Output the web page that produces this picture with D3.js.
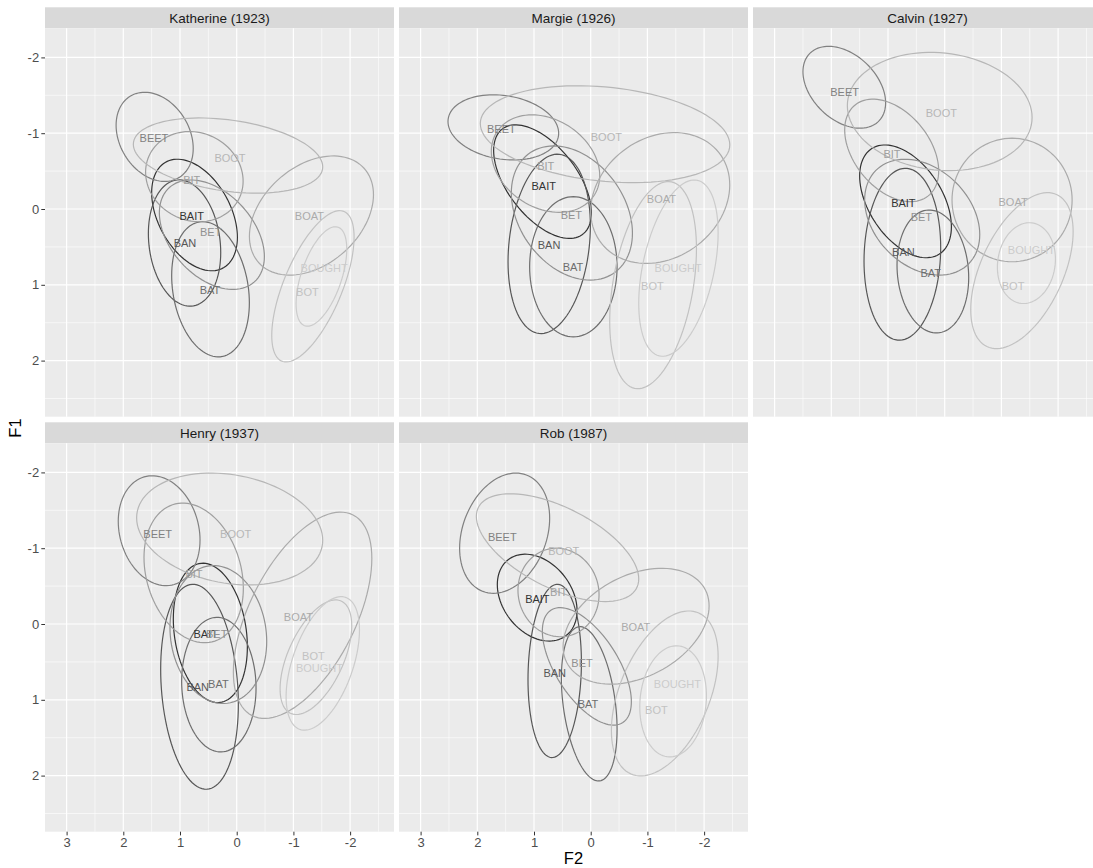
<!DOCTYPE html>
<html><head><meta charset="utf-8">
<script src="https://cdn.jsdelivr.net/npm/d3@7"></script>
<style>
body{margin:0;background:#fff;}
svg{display:block;font-family:"Liberation Sans",Arial,Helvetica,sans-serif;}
</style>
</head><body>
<svg id="chart" width="1093" height="868"></svg>
<script>
// ---------------- data ----------------
const vowels = ["BAIT","BAN","BAT","BEET","BET","BIT","BOAT","BOOT","BOT","BOUGHT"];
const speakers = ["Katherine (1923)","Margie (1926)","Calvin (1927)","Henry (1937)","Rob (1987)"];
const xTicks = [3,2,1,0,-1,-2];
const yTicks = [-2,-1,0,1,2];
const xTickLabels = ["3","2","1","0","-1","-2"];
const yTickLabels = ["-2","-1","0","1","2"];
// rows: vowel, ellipse centre F2, centre F1, half-extent F2, half-extent F1, correlation, label F2, label F1
const katherine = [
  ["BAIT",   0.744,  0.079, 0.756, 0.736, -0.40,  0.794,  0.088],
  ["BAN",    0.920,  0.449, 0.638, 0.833, -0.15,  0.912,  0.445],
  ["BAT",    0.462,  1.059, 0.685, 0.892, -0.20,  0.471,  1.070],
  ["BEET",   1.447, -0.952, 0.680, 0.588, -0.26,  1.459, -0.934],
  ["BET",    0.438,  0.339, 0.926, 0.722, -0.40,  0.459,  0.308],
  ["BIT",    0.747, -0.427, 0.860, 0.595, -0.10,  0.794, -0.383],
  ["BOAT",  -1.318,  0.086, 1.094, 0.786,  0.35, -1.282,  0.088],
  ["BOOT",   0.153, -0.705, 1.670, 0.496, -0.30,  0.118, -0.670],
  ["BOT",   -1.344,  1.020, 0.726, 0.998,  0.65, -1.247,  1.101],
  ["BOUGHT",-1.494,  0.890, 0.447, 0.656,  0.55, -1.541,  0.775]
];
const margie = [
  ["BAIT",   0.850, -0.361, 0.862, 0.749, -0.55,  0.829, -0.304],
  ["BAN",    0.732,  0.460, 0.726, 1.183,  0.20,  0.735,  0.476],
  ["BAT",    0.306,  0.762, 0.771, 0.925,  0.00,  0.312,  0.771],
  ["BEET",   1.541, -1.077, 0.976, 0.430, -0.18,  1.576, -1.053],
  ["BET",    0.332,  0.053, 1.068, 0.885, -0.30,  0.341,  0.079],
  ["BIT",    0.797, -0.599, 0.956, 0.643, -0.25,  0.794, -0.559],
  ["BOAT",  -1.226, -0.145, 1.226, 0.863,  0.20, -1.247, -0.132],
  ["BOOT",  -0.253, -0.987, 2.200, 0.639, -0.22, -0.276, -0.943],
  ["BOT",   -1.100,  1.004, 0.765, 1.366,  0.35, -1.088,  1.018],
  ["BOUGHT",-1.547,  0.780, 0.700, 1.163,  0.40, -1.541,  0.775]
];
const calvin = [
  ["BAIT",   0.691, -0.101, 0.809, 0.744, -0.45,  0.729, -0.075],
  ["BAN",    0.747,  0.597, 0.676, 1.134,  0.08,  0.729,  0.573],
  ["BAT",    0.209,  0.824, 0.632, 0.811, -0.10,  0.247,  0.850],
  ["BEET",   1.771, -1.606, 0.729, 0.540, -0.38,  1.765, -1.537],
  ["BET",    0.397,  0.108, 1.015, 0.764, -0.30,  0.412,  0.110],
  ["BIT",    0.935, -0.773, 0.829, 0.676, -0.40,  0.929, -0.727],
  ["BOAT",  -1.188, -0.119, 1.059, 0.815,  0.00, -1.206, -0.097],
  ["BOOT",   0.088, -1.286, 1.629, 0.780, -0.10,  0.059, -1.260],
  ["BOT",   -1.362,  0.813, 0.903, 1.029,  0.50, -1.206,  1.013],
  ["BOUGHT",-1.441,  0.714, 0.512, 0.533,  0.10, -1.529,  0.542]
];
const henry = [
  ["BAIT",   0.465,  0.117, 0.653, 0.919, -0.20,  0.547,  0.128],
  ["BAN",    0.656,  0.828, 0.685, 1.352, -0.17,  0.688,  0.828],
  ["BAT",    0.315,  0.800, 0.656, 0.888, -0.05,  0.324,  0.789],
  ["BEET",   1.368, -1.231, 0.721, 0.725, -0.17,  1.394, -1.189],
  ["BET",    0.324,  0.139, 0.853, 0.910, -0.10,  0.353,  0.132],
  ["BIT",    0.759, -0.674, 0.876, 0.921, -0.22,  0.753, -0.656],
  ["BOAT",  -1.162, -0.115, 1.221, 1.361,  0.55, -1.088, -0.088],
  ["BOOT",   0.124, -1.253, 1.641, 0.738, -0.20,  0.018, -1.189],
  ["BOT",   -1.397,  0.438, 0.632, 0.756,  0.55, -1.353,  0.419],
  ["BOUGHT",-1.518,  0.520, 0.647, 0.881,  0.50, -1.459,  0.577]
];
const rob = [
  ["BAIT",   0.944, -0.348, 0.703, 0.573, -0.30,  0.941, -0.326],
  ["BAN",    0.635,  0.619, 0.471, 1.143,  0.10,  0.635,  0.652],
  ["BAT",    0.026,  1.053, 0.491, 1.018, -0.33,  0.047,  1.062],
  ["BEET",   1.518, -1.198, 0.794, 0.793,  0.25,  1.559, -1.145],
  ["BET",    0.068,  0.559, 0.785, 0.775, -0.60,  0.153,  0.520],
  ["BIT",    0.568, -0.416, 0.715, 0.584, -0.05,  0.565, -0.419],
  ["BOAT",  -0.800,  0.029, 1.288, 0.764,  0.35, -0.794,  0.048],
  ["BOOT",   0.585, -1.007, 1.432, 0.711, -0.58,  0.476, -0.956],
  ["BOT",   -1.306,  0.916, 0.941, 1.088,  0.45, -1.159,  1.137],
  ["BOUGHT",-1.453,  1.020, 0.588, 0.733,  0.10, -1.529,  0.797]
];
const speakerData = [katherine, margie, calvin, henry, rob];

// ---------------- layout ----------------
const svg = d3.select("#chart");
const L = 45, T = 7.3, panelW = 349, colPitch = 354, stripH = 21, panelH = 388.4, rowPitch = 415;
const nCol = 3;

const x = d3.scaleLinear().domain([3.381, -2.774]).range([0, panelW]);
const y = d3.scaleLinear().domain([-2.384, 2.740]).range([0, panelH]);
const colour = d3.scaleOrdinal().domain(vowels)
  .range(["#333333","#575757","#6E6E6E","#818181","#919191","#9F9F9F","#ABABAB","#B7B7B7","#C2C2C2","#CCCCCC"]);

const xMinor = d3.range(-2.5, 3.5, 1);
const yMinor = d3.range(-2.5, 3.0, 1);

function ellipsePoints(r) {
  const [, cx, cy, rx, ry, rho] = r;
  const s = Math.sqrt(1 - rho * rho);
  return d3.range(0, 101).map(i => {
    const t = i / 100 * 2 * Math.PI;
    return [cx + rx * Math.cos(t), cy + ry * (rho * Math.cos(t) + s * Math.sin(t))];
  });
}
const line = d3.line().x(d => x(d[0])).y(d => y(d[1])).curve(d3.curveLinearClosed);

speakers.forEach((name, i) => {
  const col = i % nCol, row = Math.floor(i / nCol);
  const px = L + col * colPitch, py = T + row * rowPitch;
  const g = svg.append("g").attr("transform", `translate(${px},${py})`);

  // strip
  g.append("rect").attr("width", panelW).attr("height", stripH).attr("fill", "#D9D9D9");
  g.append("text").attr("x", panelW / 2).attr("y", stripH / 2).attr("dy", "0.35em")
    .attr("text-anchor", "middle").attr("font-size", 13.5).attr("fill", "#1A1A1A").text(name);

  const p = g.append("g").attr("transform", `translate(0,${stripH})`);
  const clipId = "clip" + i;
  p.append("clipPath").attr("id", clipId).append("rect").attr("width", panelW).attr("height", panelH);
  p.append("rect").attr("width", panelW).attr("height", panelH).attr("fill", "#EBEBEB");

  // grid
  p.selectAll(".vmin").data(xMinor.filter(v => v < x.domain()[0] && v > x.domain()[1])).join("line")
    .attr("x1", d => x(d)).attr("x2", d => x(d)).attr("y1", 0).attr("y2", panelH)
    .attr("stroke", "#fff").attr("stroke-width", 0.6);
  p.selectAll(".hmin").data(yMinor.filter(v => v > y.domain()[0] && v < y.domain()[1])).join("line")
    .attr("y1", d => y(d)).attr("y2", d => y(d)).attr("x1", 0).attr("x2", panelW)
    .attr("stroke", "#fff").attr("stroke-width", 0.6);
  p.selectAll(".vmaj").data(xTicks).join("line")
    .attr("x1", d => x(d)).attr("x2", d => x(d)).attr("y1", 0).attr("y2", panelH)
    .attr("stroke", "#fff").attr("stroke-width", 1.2);
  p.selectAll(".hmaj").data(yTicks).join("line")
    .attr("y1", d => y(d)).attr("y2", d => y(d)).attr("x1", 0).attr("x2", panelW)
    .attr("stroke", "#fff").attr("stroke-width", 1.2);

  const rows = speakerData[i];
  const inner = p.append("g").attr("clip-path", `url(#${clipId})`);
  inner.selectAll("path.ell").data(rows).join("path")
    .attr("class", "ell")
    .attr("d", r => line(ellipsePoints(r)))
    .attr("fill", "none").attr("stroke", r => colour(r[0])).attr("stroke-width", 1.2);
  inner.selectAll("text.lab").data(rows).join("text")
    .attr("class", "lab")
    .attr("x", r => x(r[6])).attr("y", r => y(r[7])).attr("dy", "0.35em")
    .attr("text-anchor", "middle").attr("font-size", 11).attr("fill", r => colour(r[0]))
    .text(r => r[0]);

  // axes
  if (col === 0) {
    const ay = p.append("g").call(d3.axisLeft(y).tickValues(yTicks)
      .tickFormat((d, k) => yTickLabels[k]).tickSize(3.7).tickPadding(2.2));
    ay.select(".domain").remove();
    ay.selectAll("line").attr("stroke", "#333333");
    ay.selectAll("text").attr("fill", "#4D4D4D").attr("font-size", 13).style("font-family", "inherit");
  }
  if (row === Math.floor((speakers.length - 1) / nCol)) {
    const ax = p.append("g").attr("transform", `translate(0,${panelH})`)
      .call(d3.axisBottom(x).tickValues(xTicks)
        .tickFormat((d, k) => xTickLabels[k]).tickSize(3.7).tickPadding(2.2));
    ax.select(".domain").remove();
    ax.selectAll("line").attr("stroke", "#333333");
    ax.selectAll("text").attr("fill", "#4D4D4D").attr("font-size", 13).style("font-family", "inherit");
  }
});

// axis titles
svg.append("text").attr("x", 573.5).attr("y", 858).attr("dy", "0.35em")
  .attr("text-anchor", "middle").attr("font-size", 16.5).attr("fill", "#000").text("F2");
svg.append("text").attr("transform", "translate(15.5,428) rotate(-90)").attr("dy", "0.35em")
  .attr("text-anchor", "middle").attr("font-size", 16.5).attr("fill", "#000").text("F1");
</script>
</body></html>
